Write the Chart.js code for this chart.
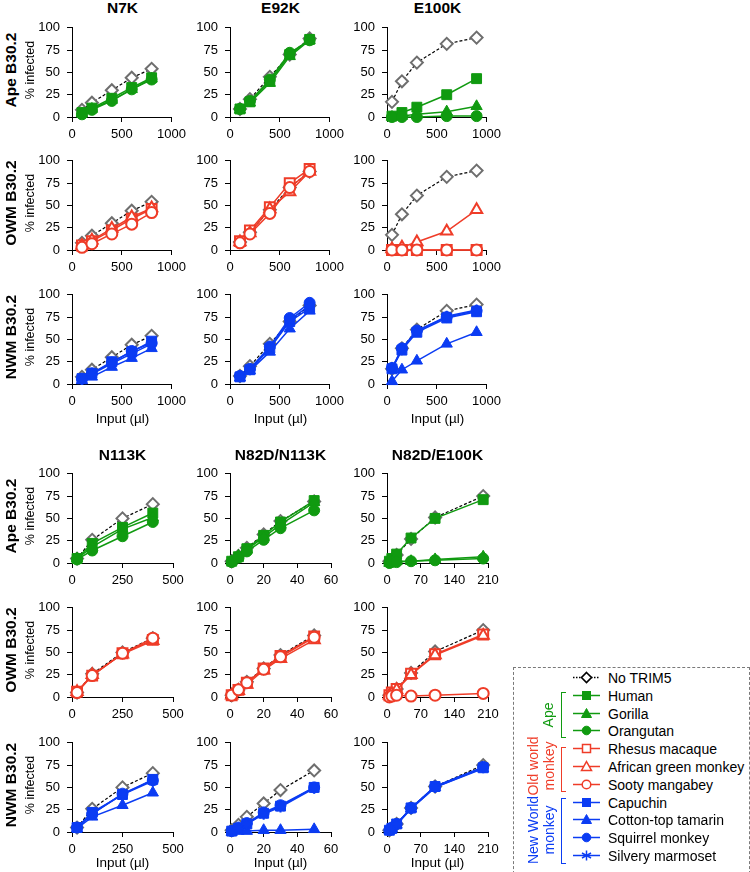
<!DOCTYPE html>
<html>
<head>
<meta charset="utf-8">
<script src="https://cdn.jsdelivr.net/npm/chart.js@4.4.0/dist/chart.umd.min.js"></script>
<style>
  body { margin: 0; width: 750px; height: 872px; position: relative; overflow: hidden; background: #fff;
         font-family: "Liberation Sans", Arial, sans-serif; color: #000; }
  .panel { position: absolute; }
  .title { position: absolute; font-weight: bold; font-size: 15.5px; transform: translate(-50%, -50%); white-space: nowrap; }
  .rowlab { position: absolute; font-weight: bold; font-size: 15.5px; transform: translate(-50%, -50%) rotate(-90deg); white-space: nowrap; }
  .ylab { position: absolute; font-size: 12.5px; transform: translate(-50%, -50%) rotate(-90deg); white-space: nowrap; }
  .xlab { position: absolute; font-size: 13.5px; transform: translate(-50%, -50%); white-space: nowrap; }
  #legend { position: absolute; left: 513px; top: 667px; width: 235px; height: 220px; border: 1px dashed #7a7a7a; }
  .entry { position: absolute; height: 16px; font-size: 14px; line-height: 16px; white-space: nowrap; }
  .entry svg { position: absolute; left: 0; top: 0; }
  .entry span { position: absolute; left: 36px; top: 0; }
  .grp { position: absolute; font-size: 14px; line-height: 16px; text-align: center; transform: translate(-50%, -50%) rotate(-90deg); white-space: nowrap; }
  .brk { position: absolute; width: 4px; border-left: 1.5px solid; border-top: 1.5px solid; border-bottom: 1.5px solid; }
</style>
</head>
<body>
<script>
// ---- data ----
const mutantNames = ['N7K', 'E92K', 'E100K', 'N113K', 'N82D/N113K', 'N82D/E100K'];
const rowNames = ['Ape B30.2', 'OWM B30.2', 'NWM B30.2'];
const apeSpecies = ['Human', 'Gorilla', 'Orangutan'];
const owmSpecies = ['Rhesus macaque', 'African green monkey', 'Sooty mangabey'];
const nwmSpecies = ['Capuchin', 'Cotton-top tamarin', 'Squirrel monkey', 'Silvery marmoset'];

const yTicks = [0, 25, 50, 75, 100];
const xTicksN7K = [0, 500, 1000];
const xTicksE92K = [0, 500, 1000];
const xTicksE100K = [0, 500, 1000];
const xTicksN113K = [0, 250, 500];
const xTicksN82DN113K = [0, 20, 40, 60];
const xTicksN82DE100K = [0, 70, 140, 210];

const inputN7K = [100, 200, 400, 600, 800];
const inputE92K = [100, 200, 400, 600, 800];
const inputE100K = [50, 150, 300, 600, 900];
const inputN113K = [25, 100, 250, 400];
const inputN82DN113K = [1, 5, 10, 20, 30, 50];
const inputN82DE100K = [5, 10, 20, 50, 100, 200];

// No TRIM5 control (same in every row of a column)
const noTrimN7K = [8, 16, 30, 44, 54];
const noTrimE92K = [9, 20, 45, 70, 88];
const noTrimE100K = [17, 40, 61, 82, 89];
const noTrimN113K = [5, 26, 50, 66];
const noTrimN82DN113K = [2, 8, 17, 32, 47, 69];
const noTrimN82DE100K = [2, 4, 9, 27, 51, 75];

// one array per species, in the order of the species lists above
const apeN7K = [[5, 10, 21, 33, 44], [4, 9, 19, 31, 43], [3, 8, 18, 31, 42]];
const owmN7K = [[5, 10, 22, 35, 46], [5, 11, 24, 37, 47], [3, 7, 18, 29, 42]];
const nwmN7K = [[6, 12, 25, 36, 48], [4, 8, 19, 29, 40], [6, 12, 24, 37, 46], [5, 11, 23, 34, 45]];

const apeE92K = [[9, 17, 40, 70, 87], [8, 16, 38, 68, 86], [9, 18, 42, 72, 86]];
const owmE92K = [[10, 22, 48, 75, 91], [9, 19, 46, 65, 88], [8, 18, 41, 70, 88]];
const nwmE92K = [[8, 16, 40, 70, 85], [7, 15, 36, 62, 82], [9, 17, 42, 74, 91], [8, 16, 40, 72, 88]];

const apeE100K = [[1, 5, 11, 25, 43], [0, 1, 3, 6, 12], [0, 0, 0, 1, 1]];
const owmE100K = [[0, 0, 0, 0, 0], [1, 3, 9, 21, 45], [0, 0, 0, 0, 0]];
const nwmE100K = [[17, 38, 58, 74, 81], [3, 16, 26, 45, 58], [18, 40, 60, 75, 82], [17, 39, 59, 76, 83]];

const apeN113K = [[5, 22, 40, 56], [5, 18, 38, 51], [4, 14, 30, 46]];
const owmN113K = [[6, 24, 49, 64], [6, 25, 48, 63], [5, 24, 49, 66]];
const nwmN113K = [[5, 22, 42, 59], [4, 17, 30, 44], [5, 20, 43, 58], [5, 21, 42, 57]];

const apeN82DN113K = [[2, 7, 16, 31, 46, 70], [2, 8, 15, 29, 43, 68], [1, 6, 13, 26, 39, 59]];
const owmN82DN113K = [[2, 8, 16, 32, 46, 68], [2, 7, 14, 30, 43, 64], [2, 8, 16, 31, 45, 67]];
const nwmN82DN113K = [[1, 4, 9, 21, 29, 50], [0, 1, 1, 2, 2, 3], [1, 5, 10, 22, 30, 50], [1, 4, 9, 20, 28, 49]];

const apeN82DE100K = [[2, 5, 10, 28, 50, 71], [0, 1, 2, 2, 4, 7], [0, 1, 1, 2, 3, 5]];
const owmN82DE100K = [[2, 5, 9, 26, 48, 70], [2, 4, 8, 25, 47, 69], [0, 1, 2, 1, 2, 4]];
const nwmN82DE100K = [[2, 4, 9, 27, 51, 72], [2, 4, 8, 26, 50, 71], [2, 5, 9, 27, 51, 73], [2, 4, 9, 26, 50, 72]];

// ---- styles ----
const GREEN = '#109a10';
const RED = '#ef3c28';
const BLUE = '#0b3cf3';
const GREY = '#6e6e6e';

const groupStyles = [
  { color: GREEN, hollow: false, names: apeSpecies, shapes: ['rect', 'triangle', 'circle'] },
  { color: RED, hollow: true, names: owmSpecies, shapes: ['rect', 'triangle', 'circle'] },
  { color: BLUE, hollow: false, names: nwmSpecies, shapes: ['rect', 'triangle', 'circle', 'star'] }
];
const shapeRadius = { rect: 7, triangle: 6.5, circle: 5.5, star: 5.5 };

const panels = [
  { x: inputN7K, ticks: xTicksN7K, noTrim: noTrimN7K, rows: [apeN7K, owmN7K, nwmN7K] },
  { x: inputE92K, ticks: xTicksE92K, noTrim: noTrimE92K, rows: [apeE92K, owmE92K, nwmE92K] },
  { x: inputE100K, ticks: xTicksE100K, noTrim: noTrimE100K, rows: [apeE100K, owmE100K, nwmE100K] },
  { x: inputN113K, ticks: xTicksN113K, noTrim: noTrimN113K, rows: [apeN113K, owmN113K, nwmN113K] },
  { x: inputN82DN113K, ticks: xTicksN82DN113K, noTrim: noTrimN82DN113K, rows: [apeN82DN113K, owmN82DN113K, nwmN82DN113K] },
  { x: inputN82DE100K, ticks: xTicksN82DE100K, noTrim: noTrimN82DE100K, rows: [apeN82DE100K, owmN82DE100K, nwmN82DE100K] }
];

// layout of the grid
const colX = [72, 230, 387];
const rowTop = [23, 156, 290, 469, 603, 738];
const PLOT_W = 101, PLOT_H = 94;
const PAD_L = 45, PAD_T = 10, PAD_R = 18, PAD_B = 30;

Chart.defaults.font.family = '"Liberation Sans", Arial, sans-serif';
Chart.defaults.font.size = 13;
Chart.defaults.color = '#000';
Chart.defaults.animation = false;

function addText(cls, text, x, y, color) {
  const d = document.createElement('div');
  d.className = cls;
  d.innerHTML = text;
  d.style.left = x + 'px';
  d.style.top = y + 'px';
  if (color) d.style.color = color;
  document.body.appendChild(d);
  return d;
}

function toPoints(xs, ys) {
  return xs.map((x, i) => ({ x: x, y: ys[i] }));
}

function makePanel(p, g, left, top) {
  const style = groupStyles[g];
  const rowData = p.rows[g];
  const n = rowData.length;
  // later species drawn on top, the No TRIM5 control underneath everything
  const datasets = rowData.map((ys, i) => ({
    label: style.names[i],
    data: toPoints(p.x, ys),
    order: n - i,
    borderColor: style.color,
    backgroundColor: style.hollow ? '#fff' : style.color,
    borderWidth: 1.5,
    pointStyle: style.shapes[i],
    pointRadius: shapeRadius[style.shapes[i]],
    pointBorderWidth: style.hollow || style.shapes[i] === 'star' ? 2 : 1,
    pointBackgroundColor: style.hollow ? '#fff' : style.color,
    pointBorderColor: style.color,
    clip: false
  }));
  datasets.push({
    label: 'No TRIM5',
    data: toPoints(p.x, p.noTrim),
    order: n + 1,
    borderColor: '#000',
    borderWidth: 1.2,
    borderDash: [3, 2],
    pointStyle: 'rectRot',
    pointRadius: 6,
    pointBorderWidth: 2,
    pointBackgroundColor: '#fff',
    pointBorderColor: GREY,
    clip: false
  });

  const box = document.createElement('div');
  box.className = 'panel';
  const w = PAD_L + PLOT_W + PAD_R, h = PAD_T + PLOT_H + PAD_B;
  box.style.left = (left - PAD_L) + 'px';
  box.style.top = (top - PAD_T) + 'px';
  const canvas = document.createElement('canvas');
  canvas.width = w;
  canvas.height = h;
  box.appendChild(canvas);
  document.body.appendChild(box);

  const axisStyle = {
    grid: { drawOnChartArea: false, drawTicks: true, tickLength: 5, color: '#000', lineWidth: 1 },
    border: { color: '#000', width: 1 }
  };

  new Chart(canvas, {
    type: 'line',
    data: { datasets: datasets },
    options: {
      responsive: false,
      layout: { padding: { left: 0, top: PAD_T, right: PAD_R, bottom: 0 } },
      plugins: { legend: { display: false }, tooltip: { enabled: false } },
      elements: { line: { tension: 0 } },
      scales: {
        x: Object.assign({
          type: 'linear',
          min: p.ticks[0],
          max: p.ticks[p.ticks.length - 1],
          ticks: { stepSize: p.ticks[1] - p.ticks[0], padding: 5, maxRotation: 0, callback: v => String(v) },
          afterBuildTicks: s => { s.ticks = p.ticks.map(v => ({ value: v })); },
          afterFit: s => { s.height = PAD_B; }
        }, axisStyle),
        y: Object.assign({
          type: 'linear',
          min: yTicks[0],
          max: yTicks[yTicks.length - 1],
          ticks: { stepSize: yTicks[1] - yTicks[0], padding: 7, callback: v => String(v) },
          afterBuildTicks: s => { s.ticks = yTicks.map(v => ({ value: v })); },
          afterFit: s => { s.width = PAD_L; }
        }, axisStyle)
      }
    }
  });
}

panels.forEach((p, m) => {
  const section = m < 3 ? 0 : 1;
  const col = m % 3;
  const left = colX[col];
  addText('title', mutantNames[m], left + PLOT_W / 2, section === 0 ? 8 : 455);
  for (let g = 0; g < 3; g++) {
    const top = rowTop[section * 3 + g];
    makePanel(p, g, left, top);
  }
  addText('xlab', 'Input (µl)', left + PLOT_W / 2, section === 0 ? 418 : 862);
});

rowTop.forEach((top, r) => {
  addText('rowlab', rowNames[r % 3], 11, top + PLOT_H / 2);
  addText('ylab', '% infected', 30, top + PLOT_H / 2);
});

// ---- legend ----
function symbolSvg(shape, color, hollow, dotted) {
  const fill = hollow ? '#fff' : color;
  const sw = hollow ? 1.5 : 1;
  let mark = '';
  if (shape === 'rect') mark = `<rect x="10.5" y="3.5" width="8" height="8" fill="${fill}" stroke="${color}" stroke-width="${sw}"/>`;
  if (shape === 'triangle') mark = `<polygon points="14.5,2.5 19.5,11.5 9.5,11.5" fill="${fill}" stroke="${color}" stroke-width="${sw}"/>`;
  if (shape === 'circle') mark = `<circle cx="14.5" cy="7.5" r="4.3" fill="${fill}" stroke="${color}" stroke-width="${sw}"/>`;
  if (shape === 'rectRot') mark = `<polygon points="14.5,2.5 19.5,7.5 14.5,12.5 9.5,7.5" fill="#fff" stroke="#000" stroke-width="1.6"/>`;
  if (shape === 'star') mark = `<g stroke="${color}" stroke-width="1.5"><line x1="14.5" y1="2.5" x2="14.5" y2="12.5"/><line x1="10" y1="5" x2="19" y2="10"/><line x1="10" y1="10" x2="19" y2="5"/></g>`;
  const dash = dotted ? ' stroke-dasharray="1.5,1.5"' : '';
  return `<svg width="30" height="16"><line x1="1" y1="7.5" x2="28" y2="7.5" stroke="${dotted ? '#000' : color}" stroke-width="1.5"${dash}/>${mark}</svg>`;
}

const legendEntries = [{ name: 'No TRIM5', shape: 'rectRot', color: '#000', hollow: true, dotted: true }];
groupStyles.forEach(gs => {
  gs.names.forEach((n, i) => legendEntries.push({ name: n, shape: gs.shapes[i], color: gs.color, hollow: gs.hollow }));
});

legendEntries.forEach((e, i) => {
  const d = document.createElement('div');
  d.className = 'entry';
  d.style.left = '572px';
  d.style.top = (670 + i * 17.8) + 'px';
  d.innerHTML = symbolSvg(e.shape, e.color, e.hollow, e.dotted) + `<span>${e.name}</span>`;
  document.body.appendChild(d);
});

const legendBox = document.createElement('div');
legendBox.id = 'legend';
document.body.appendChild(legendBox);

addText('grp', 'Ape', 548, 715, GREEN);
addText('grp', 'Old world<br>monkey', 541, 766, RED);
addText('grp', 'New World<br>monkey', 541, 830, BLUE);

function bracket(top, bottom, color) {
  const b = document.createElement('div');
  b.className = 'brk';
  b.style.left = '561px';
  b.style.top = top + 'px';
  b.style.height = (bottom - top) + 'px';
  b.style.borderColor = color;
  document.body.appendChild(b);
}
bracket(692, 736, GREEN);
bracket(747, 790, RED);
bracket(798, 862, BLUE);
</script>
</body>
</html>
